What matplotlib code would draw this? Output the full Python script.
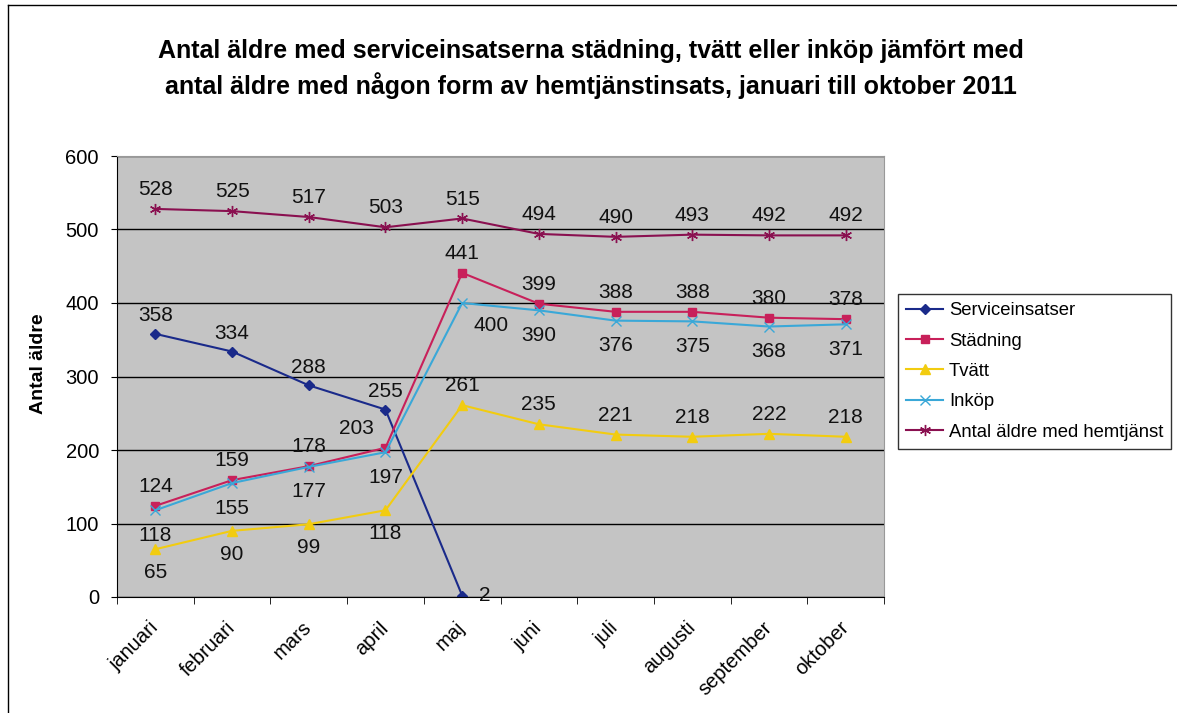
import matplotlib.pyplot as plt
import matplotlib.transforms as mtransforms
import numpy as np

plt.rcParams['font.family'] = ['Liberation Sans', 'DejaVu Sans']

months = ['januari', 'februari', 'mars', 'april', 'maj', 'juni', 'juli',
          'augusti', 'september', 'oktober']
serviceinsatser = [358, 334, 288, 255, 2]
stadning = [124, 159, 178, 203, 441, 399, 388, 388, 380, 378]
tvatt = [65, 90, 99, 118, 261, 235, 221, 218, 222, 218]
inkop = [118, 155, 177, 197, 400, 390, 376, 375, 368, 371]
hemtjanst = [528, 525, 517, 503, 515, 494, 490, 493, 492, 492]

# (name, values, colour, marker, marker size, label offsets in points)
series = [
    ('Serviceinsatser', serviceinsatser, '#1a2a8a', 'D', 5,
     [(0, 13)] * 4 + [(12, 0)]),
    ('Städning', stadning, '#c8205a', 's', 6,
     [(0, 14)] * 3 + [(-8, 14)] + [(0, 14)] * 6),
    ('Tvätt', tvatt, '#f2cc10', '^', 7,
     [(0, -17)] * 4 + [(0, 14)] * 6),
    ('Inköp', inkop, '#3aa8d8', 'x', 7,
     [(0, -18)] * 4 + [(8, -16)] + [(0, -18)] * 5),
    ('Antal äldre med hemtjänst', hemtjanst, '#8a1050', (6, 2, 0), 8,
     [(0, 14)] * 10),
]

fig = plt.figure(figsize=(11.77, 7.13), dpi=100)
ax = fig.add_axes([117 / 1177, 1 - 597 / 713, 767 / 1177, 441 / 713])
ax.set_facecolor('#c4c4c4')

x = np.arange(len(months))
for name, vals, col, mk, ms, offs in series:
    xs = x[:len(vals)]
    ax.plot(xs, vals, color=col, marker=mk, markersize=ms, linewidth=1.5,
            markeredgecolor=col, markerfacecolor=col, label=name)
    for xi, v, (dx, dy) in zip(xs, vals, offs):
        ha = 'left' if dx > 6 else ('right' if dx < -6 else 'center')
        ax.annotate(str(v), (xi, v), xytext=(dx, dy), textcoords='offset points',
                    ha=ha, va='center', fontsize=15, color='#111111')

ax.set_xlim(-0.5, len(months) - 0.5)
ax.set_ylim(0, 600)
ax.set_yticks(range(0, 601, 100))
ax.set_xticks(x)
ax.set_xticklabels(months, rotation=45, ha='right', va='center',
                   rotation_mode='anchor', fontsize=14.5)
shift = mtransforms.ScaledTranslation(-7 / 100, 0, fig.dpi_scale_trans)
for lbl in ax.get_xticklabels():
    lbl.set_transform(lbl.get_transform() + shift)
ax.set_xticks(np.arange(-0.5, len(months), 1), minor=True)
ax.tick_params(axis='x', which='major', length=0, pad=20)
ax.tick_params(axis='x', which='minor', length=5, direction='out')
ax.tick_params(axis='y', labelsize=14.5, length=4, direction='out', pad=9)
ax.grid(axis='y', color='black', linewidth=1)
ax.set_axisbelow(True)
for side in ['top', 'right']:
    ax.spines[side].set_color('#999999')
ax.spines['left'].set_color('black')
ax.spines['bottom'].set_color('black')
ax.set_ylabel('Antal äldre', fontsize=14, fontweight='bold')
ax.yaxis.set_label_coords(-0.091, 0.53)

fig.text(0.502, 0.903, 'Antal äldre med serviceinsatserna städning, tvätt eller inköp jämfört med\n'
         'antal äldre med någon form av hemtjänstinsats, januari till oktober 2011',
         ha='center', va='center', fontsize=18, fontweight='bold',
         linespacing=1.45)

leg = fig.legend(loc='upper left', bbox_to_anchor=(898 / 1177, 1 - 294 / 713),
                 fontsize=13.3, frameon=True, fancybox=False, edgecolor='black',
                 handlelength=2.0, borderpad=0.45, labelspacing=0.72,
                 handletextpad=0.3, borderaxespad=0)
leg.get_frame().set_linewidth(1)

# scan frame lines
fig.add_artist(plt.Line2D([8 / 1177, 8 / 1177], [0, 1 - 5 / 713], color='black', linewidth=1))
fig.add_artist(plt.Line2D([8 / 1177, 1], [1 - 5 / 713, 1 - 5 / 713], color='black', linewidth=1))

fig.savefig('out.png', dpi=100)
